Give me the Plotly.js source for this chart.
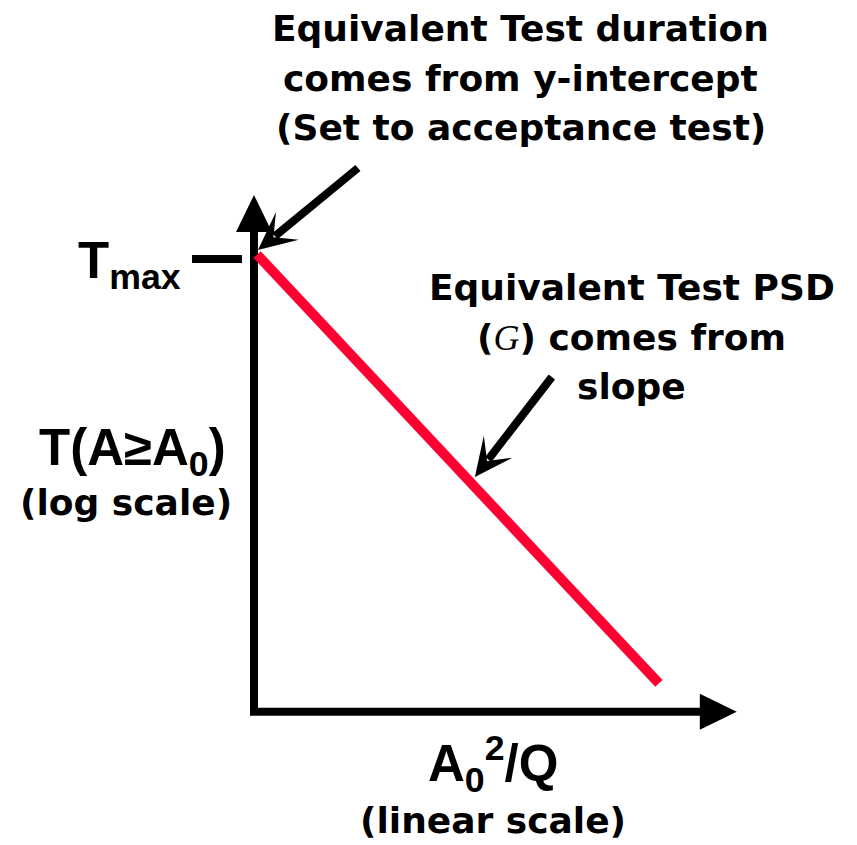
<!DOCTYPE html>
<html><head><meta charset="utf-8">
<script src="https://cdn.plot.ly/plotly-3.0.1.min.js"></script>
<style>html,body{margin:0;padding:0;background:#fff;}</style>
</head><body><div id="chart" style="width:857px;height:845px;"></div>
<script>
// ---- data ----
const xValues = [0, 10];            // A0^2/Q (linear scale)
const tValues = [1000, 1];          // T(A>=A0) (log scale); first point = Tmax (y-intercept)
const xAxisLabel = ['A<sub>0</sub><sup>2</sup>/Q', '(linear scale)'];
const yAxisLabel = ['T(A≥A<sub>0</sub>)', '(log scale)'];
const tickLabel = 'T<sub>max</sub>';
const interceptNote = ['Equivalent Test duration', 'comes from y-intercept', '(Set to acceptance test)'];
const slopeNote = ['Equivalent Test PSD', '(G) comes from', 'slope'];

// ---- layout geometry ----
const W = 857, H = 845;
const xRange = [-0.5, 10.5];
const yRangeLog = [-0.2, 3.2];
const px0 = 257, px1 = 659, py0 = 255, py1 = 684;
const kx = (px1 - px0) / (xValues[1] - xValues[0]);
const ky = (py1 - py0) / (Math.log10(tValues[0]) - Math.log10(tValues[1]));
const ml = Math.round(px0 - (xValues[0] - xRange[0]) * kx);
const pw = (xRange[1] - xRange[0]) * kx;
const mr = W - ml - pw;
const mt = Math.round(py0 - (yRangeLog[1] - Math.log10(tValues[0])) * ky);
const ph = (yRangeLog[1] - yRangeLog[0]) * ky;
const mb = H - mt - ph;
const fx = p => (p - ml) / pw;
const fy = p => (mt + ph - p) / ph;

const sans = {family: 'DejaVu Sans', size: 36, color: '#000', weight: 'bold'};
const arial = {family: 'Liberation Sans, Arial', size: 51, color: '#000', weight: 'bold'};

const trace = {
  x: xValues, y: tValues, mode: 'lines', type: 'scatter',
  line: {color: '#FF0033', width: 10}, hoverinfo: 'skip'
};

const shapes = [
  {type: 'path', xref: 'paper', yref: 'paper', layer: 'below',
   path: `M${fx(254)},${fy(228)} L${fx(254)},${fy(712)} L${fx(705)},${fy(712)}`,
   line: {color: '#000', width: 8}},
  {type: 'path', xref: 'paper', yref: 'paper', layer: 'below',
   path: `M${fx(254)},${fy(195)} L${fx(236)},${fy(232)} L${fx(272)},${fy(232)} Z`,
   fillcolor: '#000', line: {width: 0}},
  {type: 'path', xref: 'paper', yref: 'paper', layer: 'below',
   path: `M${fx(737)},${fy(712)} L${fx(700)},${fy(694)} L${fx(700)},${fy(730)} Z`,
   fillcolor: '#000', line: {width: 0}},
  {type: 'line', xref: 'paper', yref: 'paper', x0: fx(192), x1: fx(242), y0: fy(259), y1: fy(259),
   line: {color: '#000', width: 8}}
];

// pointer arrows with notched heads
function arrow(tipX, tipY, tailX, tailY) {
  const dx = tipX - tailX, dy = tipY - tailY, len = Math.hypot(dx, dy);
  const ux = dx / len, uy = dy / len, nx = -uy, ny = ux;
  const L = 38, hw = 18, notch = 20;
  const bx = tipX - L * ux, by = tipY - L * uy;
  const cx = tipX - notch * ux, cy = tipY - notch * uy;
  shapes.push({type: 'line', xref: 'paper', yref: 'paper',
    x0: fx(tailX), y0: fy(tailY), x1: fx(cx - 2 * ux), y1: fy(cy - 2 * uy),
    line: {color: '#000', width: 8}});
  shapes.push({type: 'path', xref: 'paper', yref: 'paper',
    path: `M${fx(tipX)},${fy(tipY)} L${fx(bx + hw * nx)},${fy(by + hw * ny)} L${fx(cx)},${fy(cy)} L${fx(bx - hw * nx)},${fy(by - hw * ny)} Z`,
    fillcolor: '#000', line: {width: 0}});
}
arrow(258, 250, 358, 168);
arrow(475, 477, 552, 377);

const ann = [];
function txt(text, x, y, font) {
  ann.push({xref: 'paper', yref: 'paper', x: fx(x), y: fy(y), text: text, showarrow: false,
            xanchor: 'center', yanchor: 'middle', font: font});
}
const topY = [28, 78, 127];
interceptNote.forEach((t, i) => txt(t, 521, topY[i], sans));
const slopeY = [288, 338, 387];
const gSpan = '<span style="font-family:Liberation Serif;font-weight:normal;font-style:italic">G</span>';
slopeNote.forEach((t, i) => txt(t.replace('(G)', '(' + gSpan + ')'), 632, slopeY[i], sans));
txt(yAxisLabel[0], 132, 452, arial);
txt(yAxisLabel[1], 126, 503, sans);
txt(xAxisLabel[0], 493, 764, arial);
txt(xAxisLabel[1], 493, 821, sans);
txt(tickLabel, 129, 265, arial);

const hidden = {showgrid: false, zeroline: false, showticklabels: false, showline: false, ticks: '', fixedrange: true};
const layout = {
  width: W, height: H, margin: {l: ml, r: mr, t: mt, b: mb, pad: 0},
  paper_bgcolor: '#fff', plot_bgcolor: '#fff', showlegend: false,
  xaxis: Object.assign({range: xRange, type: 'linear'}, hidden),
  yaxis: Object.assign({range: yRangeLog, type: 'log'}, hidden),
  shapes: shapes, annotations: ann
};
Plotly.newPlot('chart', [trace], layout, {displayModeBar: false, staticPlot: true});
</script></body></html>
